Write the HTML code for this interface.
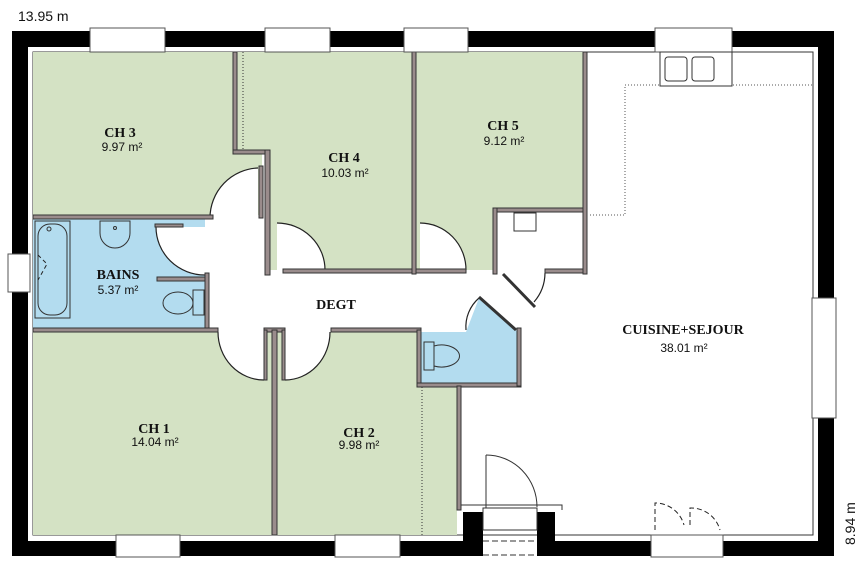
<!DOCTYPE html>
<html><head><meta charset="utf-8"><style>
body{margin:0;background:#fff;}
svg{display:block}
.t{font-family:"Liberation Serif",serif;font-weight:bold;font-size:14px;fill:#111;text-anchor:middle}
.a{font-family:"Liberation Sans",sans-serif;font-size:12px;fill:#111;text-anchor:middle}
.w{fill:#9a8c8c;stroke:#333;stroke-width:1}
.g{fill:#d4e2c4}
.b{fill:#b3dcef}
.win{fill:#fff;stroke:#555;stroke-width:1}
.s{fill:#fff;stroke:none}
.arc{fill:none;stroke:#222;stroke-width:1.2}
</style></head><body>
<svg width="867" height="570" viewBox="0 0 867 570">
<path d="M12,31 H834 V556 H12 Z M28,47 V541 H818 V47 Z" fill="#000" fill-rule="evenodd"/>
<rect x="28" y="47" width="790" height="494" fill="#fff"/>
<rect x="33" y="52" width="780" height="483" fill="#fff" stroke="#333" stroke-width="1"/>
<!-- rooms -->
<path class="g" d="M33,52 H233 V153 H262 V215 H33 Z"/>
<path class="g" d="M237,52 H412 V270 H270 V153 H237 Z"/>
<path class="g" d="M416,52 H585 V210 H493 V270 H416 Z"/>
<rect class="b" x="33" y="219" width="172" height="109"/>
<rect class="g" x="33" y="332" width="240" height="203"/>
<rect class="g" x="277" y="332" width="180" height="203"/>
<path class="b" d="M421,332 H466 L479,298 L518,332 V384 H421 Z"/>
<!-- door swings -->
<path class="s" d="M258,218 V168 A50,50 0 0 0 210,218 Z"/>
<path class="arc" d="M258,168 A50,50 0 0 0 210,218"/>
<path class="s" d="M205,227 H156 A49,48 0 0 0 205,275 Z"/>
<path class="arc" d="M156,227 A49,48 0 0 0 205,275"/>
<path class="s" d="M277,270 V223 A48,47 0 0 1 325,270 Z"/>
<path class="arc" d="M277,223 A48,47 0 0 1 325,270"/>
<path class="s" d="M420,270 V223 A46,47 0 0 1 466,270 Z"/>
<path class="arc" d="M420,223 A46,47 0 0 1 466,270"/>
<path class="s" d="M264,332 H218 A46,48 0 0 0 264,380 Z"/>
<path class="arc" d="M218,332 A46,48 0 0 0 264,380"/>
<path class="s" d="M285,332 H330 A45,48 0 0 1 285,380 Z"/>
<path class="arc" d="M330,332 A45,48 0 0 1 285,380"/>
<path class="arc" d="M545,273 A45,45 0 0 1 534,302"/>
<path class="arc" d="M466,330 A38,38 0 0 1 479,298"/>
<!-- walls -->
<rect class="w" x="233" y="52" width="4" height="102"/>
<rect class="w" x="233" y="150" width="37" height="4"/>
<rect class="w" x="265" y="150" width="5" height="125"/>
<rect class="w" x="259" y="166" width="4" height="52"/>
<rect class="w" x="283" y="269" width="130" height="4"/>
<rect class="w" x="412" y="52" width="4" height="222"/>
<rect class="w" x="416" y="269" width="50" height="4"/>
<rect class="w" x="493" y="208" width="92" height="4"/>
<rect class="w" x="493" y="208" width="4" height="66"/>
<rect class="w" x="545" y="269" width="40" height="4"/>
<rect class="w" x="583" y="52" width="4" height="222"/>
<rect class="w" x="33" y="215" width="180" height="4"/>
<rect class="w" x="155" y="224" width="28" height="3" />
<rect class="w" x="157" y="277" width="48" height="4"/>
<rect class="w" x="205" y="273" width="4" height="57"/>
<rect class="w" x="33" y="328" width="185" height="4"/>
<rect class="w" x="331" y="328" width="90" height="4"/>
<rect class="w" x="264" y="328" width="21" height="4"/>
<rect class="w" x="272" y="330" width="5" height="205"/>
<rect class="w" x="264" y="330" width="3" height="50"/>
<rect class="w" x="282" y="330" width="3" height="50"/>
<rect class="w" x="417" y="330" width="4" height="56"/>
<rect class="w" x="417" y="383" width="104" height="4"/>
<rect class="w" x="517" y="328" width="4" height="58"/>
<rect class="w" x="457" y="386" width="4" height="124"/>
<line x1="243" y1="52" x2="243" y2="150" stroke="#333" stroke-dasharray="1,2"/>
<line x1="422" y1="387" x2="422" y2="535" stroke="#333" stroke-dasharray="1,2"/>
<path d="M590,215 H625 V85 H812" fill="none" stroke="#555" stroke-dasharray="1,2"/>
<rect x="514" y="213" width="22" height="18" fill="#fff" stroke="#333"/>
<line x1="503" y1="274" x2="535" y2="307" stroke="#333" stroke-width="3"/>
<line x1="479" y1="297" x2="516" y2="330" stroke="#333" stroke-width="3"/>
<!-- entry -->
<path d="M461,510 V505 H562 V510" fill="none" stroke="#333"/>
<rect x="463" y="512" width="20" height="44" fill="#000"/>
<rect x="537" y="512" width="18" height="44" fill="#000"/>
<rect x="483" y="541" width="54" height="15" fill="#fff"/>
<line x1="483" y1="541" x2="537" y2="541" stroke="#333" stroke-dasharray="6,3"/>
<line x1="483" y1="555" x2="537" y2="555" stroke="#333" stroke-dasharray="6,3"/>
<rect x="483" y="508" width="54" height="22" fill="#fff" stroke="#333"/>
<path d="M486,455 A51,52 0 0 1 537,507" fill="none" stroke="#333"/>
<line x1="486" y1="455" x2="486" y2="508" stroke="#333"/>
<!-- windows -->
<rect class="win" x="90" y="28" width="75" height="24"/>
<rect class="win" x="265" y="28" width="65" height="24"/>
<rect class="win" x="404" y="28" width="64" height="24"/>
<rect class="win" x="655" y="28" width="77" height="24"/>
<rect class="win" x="116" y="535" width="64" height="22"/>
<rect class="win" x="335" y="535" width="65" height="22"/>
<rect class="win" x="651" y="535" width="72" height="22"/>
<rect class="win" x="8" y="254" width="22" height="38"/>
<rect class="win" x="812" y="298" width="24" height="120"/>
<rect x="660" y="52" width="72" height="34" fill="#fff" stroke="#333"/>
<rect x="665" y="57" width="22" height="24" rx="3" fill="#fff" stroke="#333"/>
<rect x="692" y="57" width="22" height="24" rx="3" fill="#fff" stroke="#333"/>
<path fill="none" stroke="#222" stroke-dasharray="5,3" d="M655,530 V503 A30,30 0 0 1 684,525 M690,525 V508 A30,30 0 0 1 720,530"/>
<!-- fixtures -->
<rect x="35" y="221" width="35" height="97" fill="none" stroke="#333"/>
<rect x="38" y="224" width="29" height="91" rx="12" fill="none" stroke="#333"/>
<circle cx="49" cy="229" r="2" fill="none" stroke="#333"/>
<path fill="none" stroke="#222" stroke-dasharray="4,3" d="M38,255 L47,264 L38,280"/>
<path d="M100,221 H130 V233 A15,15 0 0 1 100,233 Z" fill="none" stroke="#333"/>
<circle cx="115" cy="228" r="1.5" fill="none" stroke="#333"/>
<rect x="193" y="290" width="11" height="25" fill="none" stroke="#333"/>
<ellipse cx="178" cy="303" rx="15" ry="11" fill="none" stroke="#333"/>
<path d="M424,342 H434 V370 H424 Z M434,346 A18,11 0 1 1 434,366 Z" fill="none" stroke="#333"/>
<!-- labels -->
<text class="t" x="120" y="137">CH 3</text><text class="a" x="122" y="151">9.97 m²</text>
<text class="t" x="344" y="162">CH 4</text><text class="a" x="345" y="177">10.03 m²</text>
<text class="t" x="503" y="130">CH 5</text><text class="a" x="504" y="145">9.12 m²</text>
<text class="t" x="118" y="279">BAINS</text><text class="a" x="118" y="294">5.37 m²</text>
<text class="t" x="336" y="309">DEGT</text>
<text class="t" x="683" y="334">CUISINE+SEJOUR</text><text class="a" x="684" y="352">38.01 m²</text>
<text class="t" x="154" y="433">CH 1</text><text class="a" x="155" y="446">14.04 m²</text>
<text class="t" x="359" y="437">CH 2</text><text class="a" x="359" y="449">9.98 m²</text>
<text x="18" y="21" font-family="Liberation Sans,sans-serif" font-size="14" fill="#111">13.95 m</text>
<text transform="translate(855,545) rotate(-90)" font-family="Liberation Sans,sans-serif" font-size="14" fill="#111">8.94 m</text>
</svg>
</body></html>
